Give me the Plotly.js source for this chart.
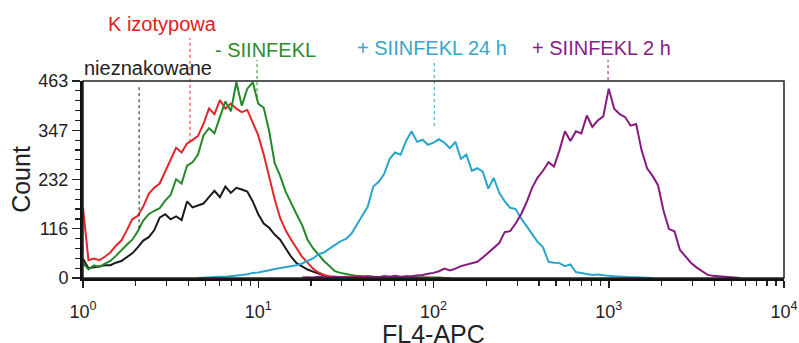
<!DOCTYPE html>
<html>
<head>
<meta charset="utf-8">
<script src="https://cdn.plot.ly/plotly-3.0.1.min.js"></script>
<style>
  html, body { margin: 0; padding: 0; background: #fff; }
  #chart { width: 799px; height: 343px; }
</style>
</head>
<body>
<div id="chart"></div>
<script>
// FL4-APC histograms: 4 log decades, 32 channels per decade.
const CHANNELS_PER_DECADE = 32;

// Counts per channel; each series begins at its own start channel.
const unlabeledStart = 0;
const unlabeledCounts = [45, 23, 25, 28, 30, 30, 36, 40, 50, 58, 72, 88, 96, 112, 142, 150, 138, 145, 136, 180,
  166, 170, 175, 190, 205, 190, 215, 200, 212, 208, 203, 180, 150, 128, 118, 102, 90, 70, 50, 35,
  28, 20, 15, 10, 6, 3, 2, 1, 0, 1, 0, 0];

const isotypeStart = 0;
const isotypeCounts = [165, 42, 46, 42, 50, 60, 76, 88, 112, 138, 146, 168, 198, 212, 222, 250, 282, 306, 295, 316,
  324, 334, 362, 398, 385, 418, 398, 410, 398, 390, 395, 365, 335, 290, 235, 185, 141, 112, 90, 70,
  50, 36, 22, 13, 7, 4, 3, 2, 3, 2, 1, 2, 3, 1, 2, 1, 0, 2, 1, 3, 1, 0, 1, 2, 0, 1, 0, 0];

const noPeptideStart = 0;
const noPeptideCounts = [35, 20, 30, 26, 34, 40, 52, 66, 78, 90, 110, 135, 150, 158, 164, 182, 195, 232, 222, 264,
  272, 290, 335, 352, 340, 378, 415, 392, 460, 405, 445, 460, 410, 400, 345, 270, 240, 203, 175, 150,
  125, 90, 70, 54, 40, 28, 16, 12, 9, 7, 5, 4, 3, 3, 2, 4, 2, 1, 2, 3, 1, 2, 1, 0, 1, 0, 0];

const peptide24hStart = 21;
const peptide24hCounts = [0, 1, 2, 2, 3, 3, 4, 6, 7, 9, 12, 13, 15, 18, 21, 23, 25, 27, 30, 34,
  40, 46, 56, 60, 69, 78, 86, 92, 104, 125, 145, 168, 215, 226, 245, 280, 295, 290, 322, 345,
  320, 325, 313, 318, 326, 318, 305, 320, 280, 290, 252, 258, 250, 210, 235, 200, 180, 165, 162, 140,
  122, 102, 85, 72, 38, 36, 35, 28, 32, 14, 12, 9, 7, 8, 6, 5, 4, 3, 3, 2, 2, 1, 1, 0];

const peptide2hStart = 40;
const peptide2hCounts = [1, 2, 1, 3, 2, 1, 3, 2, 2, 1, 3, 2, 4, 3, 2, 4, 3, 5, 3, 4,
  4, 6, 7, 10, 12, 16, 22, 18, 22, 28, 31, 35, 38, 48, 60, 72, 82, 108, 110, 128,
  150, 178, 212, 236, 252, 272, 262, 300, 345, 322, 345, 340, 382, 355, 370, 380, 445, 398, 385, 378,
  358, 362, 300, 258, 240, 218, 158, 115, 110, 66, 50, 36, 25, 17, 8, 5, 4, 3, 2, 1, 0];

// Series labels, colours and median markers (median FL4 value, count where the marker ends).
const seriesNames = ['nieznakowane', 'K izotypowa', '- SIINFEKL', '+ SIINFEKL 24 h', '+ SIINFEKL 2 h'];
const seriesColors = ['#1a1a1a', '#e3262b', '#25892a', '#2aa6cc', '#87197f'];
const labelColors = ['#222222', '#e0201f', '#2e8b2e', '#38a6c8', '#8a1c86'];
const medianValues = [2.09, 4.08, 9.84, 101, 991];
const medianLowCounts = [117, 320, 425, 357, 465];

// Axis ticks and titles
const yMax = 463;
const yTickVals = [0, 116, 232, 347, 463];
const xTickVals = [1, 10, 100, 1000, 10000];
const xTickText = ['10<sup>0</sup>', '10<sup>1</sup>', '10<sup>2</sup>', '10<sup>3</sup>', '10<sup>4</sup>'];
const xTitle = 'FL4-APC';
const yTitle = 'Count';

const FONT = 'Liberation Sans, Arial, sans-serif';

function channelValue(ch) {
  return Math.pow(10, ch / CHANNELS_PER_DECADE);
}

function histTrace(start, counts, color, name) {
  return {
    type: 'scatter',
    mode: 'lines',
    name: name,
    x: counts.map((_, i) => channelValue(start + i)),
    y: counts,
    line: { color: color, width: 2 },
    hoverinfo: 'x+y'
  };
}

const seriesData = [
  [unlabeledStart, unlabeledCounts],
  [isotypeStart, isotypeCounts],
  [noPeptideStart, noPeptideCounts],
  [peptide24hStart, peptide24hCounts],
  [peptide2hStart, peptide2hCounts]
];

const traces = seriesData.map((s, i) => histTrace(s[0], s[1], seriesColors[i], seriesNames[i]));

// Minor ticks at 2..9 within each decade
const xMinor = [];
for (let d = 0; d < 4; d++) {
  for (let m = 2; m <= 9; m++) xMinor.push(m * Math.pow(10, d));
}

// Top ends of the median markers (fraction of plot height) and label placement
const medianTops = [0.98, 1.218, 1.107, 1.107, 1.107];
const labelPos = [
  [0.0927, 1.066],
  [0.1127, 1.289],
  [0.261, 1.157],
  [0.498, 1.168],
  [0.740, 1.168]
];

const shapes = medianValues.map((m, i) => ({
  type: 'line',
  xref: 'x', yref: 'paper',
  x0: m, x1: m,
  y0: medianLowCounts[i] / yMax,
  y1: medianTops[i],
  line: { color: seriesColors[i], width: 1, dash: 'dot' },
  layer: 'above'
}));

// Thin frame on top and right
shapes.push({
  type: 'rect', xref: 'paper', yref: 'paper',
  x0: 0, x1: 1, y0: 0, y1: 1,
  line: { color: '#222', width: 1.5 },
  fillcolor: 'rgba(0,0,0,0)',
  layer: 'above'
});

const annotations = seriesNames.map((t, i) => ({
  text: t,
  xref: 'paper', yref: 'paper',
  x: labelPos[i][0], y: labelPos[i][1],
  xanchor: 'center', yanchor: 'middle',
  showarrow: false,
  font: { family: FONT, size: 20, color: labelColors[i] }
}));

// X axis title sits close to the bottom edge, below the tick labels
annotations.push({
  text: xTitle,
  xref: 'paper', yref: 'paper',
  x: 0.5, y: -0.286,
  xanchor: 'center', yanchor: 'middle',
  showarrow: false,
  font: { family: FONT, size: 25, color: '#222' }
});

const layout = {
  width: 799,
  height: 343,
  margin: { l: 83, r: 15, t: 81, b: 65 },
  paper_bgcolor: '#ffffff',
  plot_bgcolor: '#ffffff',
  showlegend: false,
  font: { family: FONT, color: '#222' },
  xaxis: {
    type: 'log',
    range: [0, 4],
    tickmode: 'array',
    tickvals: xTickVals,
    ticktext: xTickText,
    ticks: 'outside',
    ticklen: 7,
    tickwidth: 1.5,
    tickcolor: '#222',
    ticklabelstandoff: 8,
    tickfont: { family: FONT, size: 18, color: '#222' },
    minor: { tickmode: 'array', tickvals: xMinor, ticks: 'outside', ticklen: 5, tickwidth: 1.2, tickcolor: '#222' },
    showline: true,
    linewidth: 3,
    linecolor: '#111',
    showgrid: false,
    zeroline: false
  },
  yaxis: {
    range: [0, yMax],
    tickmode: 'array',
    tickvals: yTickVals,
    ticks: 'outside',
    ticklen: 8,
    tickwidth: 1.5,
    tickcolor: '#222',
    tickfont: { family: FONT, size: 18, color: '#222' },
    minor: { tickmode: 'linear', tick0: 0, dtick: yMax / 20, ticks: 'outside', ticklen: 5, tickwidth: 1.2, tickcolor: '#222' },
    showline: true,
    linewidth: 3,
    linecolor: '#111',
    showgrid: false,
    zeroline: false,
    title: { text: yTitle, font: { family: FONT, size: 25, color: '#222' }, standoff: 1 }
  },
  shapes: shapes,
  annotations: annotations
};

Plotly.newPlot('chart', traces, layout, { displayModeBar: false, staticPlot: true });
</script>
</body>
</html>
